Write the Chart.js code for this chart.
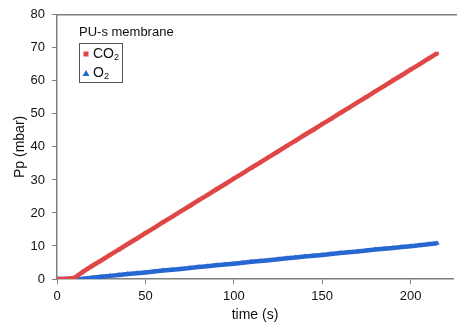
<!DOCTYPE html>
<html>
<head>
<meta charset="utf-8">
<script src="https://cdn.jsdelivr.net/npm/chart.js@4/dist/chart.umd.min.js"></script>
<style>
  html, body { margin: 0; padding: 0; background: #fff; }
  #wrap { width: 457px; height: 327px; position: relative; }
</style>
</head>
<body>
<div id="wrap"><canvas id="ppChart" width="457" height="327"></canvas></div>
<script>
/* Pp vs time, PU-s membrane */

const timeSec = [0, 5, 10, 15, 20, 25, 30, 35, 40, 45, 50, 55, 60, 65, 70, 75, 80, 85, 90, 95,
    100, 105, 110, 115, 120, 125, 130, 135, 140, 145, 150, 155, 160, 165, 170, 175, 180, 185,
    190, 195, 200, 205, 210, 215];
const co2Pp = [0, 0, 0.4, 2.3, 4.0, 5.6, 7.3, 8.9, 10.6, 12.2, 13.9, 15.5, 17.2, 18.8, 20.5,
    22.1, 23.8, 25.4, 27.1, 28.7, 30.4, 32.0, 33.7, 35.3, 37.0, 38.6, 40.3, 41.9, 43.6, 45.2,
    46.9, 48.5, 50.2, 51.8, 53.5, 55.1, 56.8, 58.4, 60.1, 61.7, 63.4, 65.0, 66.7, 68.3];
const o2Pp = [0, 0, 0, 0.1, 0.35, 0.65, 0.95, 1.2, 1.5, 1.75, 2.0, 2.3, 2.55, 2.8, 3.05, 3.35,
    3.6, 3.85, 4.15, 4.4, 4.65, 4.9, 5.2, 5.45, 5.7, 6.0, 6.25, 6.5, 6.8, 7.05, 7.3, 7.55, 7.85,
    8.1, 8.35, 8.65, 8.9, 9.15, 9.4, 9.7, 9.95, 10.2, 10.5, 10.8];
const seriesLabels = ['CO₂', 'O₂'];
const legendTitle = 'PU-s membrane';
const xTickValues = [0, 50, 100, 150, 200];

const FONT = 'Liberation Sans, Arial, sans-serif';
const AXIS_COLOR = '#7f7f7f';

function toPoints(ys) {
    return timeSec.map((t, i) => ({ x: t, y: ys[i] }));
}

// draws "CO₂" with a real lowered, smaller subscript digit
function drawChemLabel(ctx, text, x, y) {
    let cx = x;
    for (const ch of text) {
        const sub = '₀₁₂₃₄₅₆₇₈₉'.indexOf(ch);
        if (sub >= 0) {
            ctx.font = '9px ' + FONT;
            ctx.fillText(String(sub), cx, y + 3.5);
            cx += ctx.measureText(String(sub)).width;
        } else {
            ctx.font = '14px ' + FONT;
            ctx.fillText(ch, cx, y);
            cx += ctx.measureText(ch).width;
        }
    }
}

// frame line on top + boxed legend like the original figure
const frameAndLegend = {
    id: 'frameAndLegend',
    afterDraw(chart) {
        const { ctx, chartArea } = chart;
        ctx.save();
        ctx.strokeStyle = AXIS_COLOR;
        ctx.lineWidth = 1.5;
        ctx.beginPath();
        ctx.moveTo(chartArea.left, chartArea.top);
        ctx.lineTo(chart.width, chartArea.top);
        ctx.stroke();

        const lx = 79;
        const ly = 43;
        ctx.fillStyle = '#111';
        ctx.font = '13px ' + FONT;
        ctx.textBaseline = 'middle';
        ctx.fillText(legendTitle, lx, 32);

        ctx.strokeStyle = '#555';
        ctx.lineWidth = 1;
        ctx.strokeRect(lx + 0.5, ly + 0.5, 43, 39);

        chart.data.datasets.forEach((ds, i) => {
            const cy = ly + 11 + i * 19;
            ctx.fillStyle = ds.borderColor;
            if (ds.pointStyle === 'triangle') {
                ctx.beginPath();
                ctx.moveTo(lx + 7, cy - 3);
                ctx.lineTo(lx + 10.5, cy + 3);
                ctx.lineTo(lx + 3.5, cy + 3);
                ctx.closePath();
                ctx.fill();
            } else {
                ctx.fillRect(lx + 4.5, cy - 2.5, 5, 5);
            }
            ctx.fillStyle = '#111';
            drawChemLabel(ctx, ds.label, lx + 14, cy);
        });
        ctx.restore();
    }
};

new Chart(document.getElementById('ppChart').getContext('2d'), {
    type: 'line',
    data: {
        datasets: [
            {
                label: seriesLabels[0],
                data: toPoints(co2Pp),
                borderColor: '#e04646',
                backgroundColor: '#e04646',
                borderWidth: 4.5,
                pointStyle: 'rect',
                pointRadius: 2.5,
                pointBorderWidth: 0,
                tension: 0
            },
            {
                label: seriesLabels[1],
                data: toPoints(o2Pp),
                borderColor: '#2767d2',
                backgroundColor: '#2767d2',
                borderWidth: 4.5,
                pointStyle: 'triangle',
                pointRadius: 3,
                pointBorderWidth: 0,
                tension: 0
            }
        ]
    },
    options: {
        responsive: false,
        animation: false,
        layout: { padding: { top: 9, right: 0, left: 0, bottom: 0 } },
        plugins: {
            legend: { display: false },
            tooltip: { enabled: false }
        },
        scales: {
            x: {
                type: 'linear',
                min: 0,
                max: 224,
                afterBuildTicks: (scale) => {
                    scale.ticks = xTickValues.map((v) => ({ value: v }));
                },
                afterFit: (scale) => {
                    scale.height = 48;
                    scale.paddingRight = 0;
                },
                grid: {
                    display: true,
                    drawOnChartArea: false,
                    drawTicks: true,
                    tickLength: 5,
                    color: AXIS_COLOR
                },
                border: { color: AXIS_COLOR, width: 1.5 },
                ticks: {
                    color: '#111',
                    font: { family: FONT, size: 13 },
                    padding: 5,
                    maxRotation: 0
                },
                title: {
                    display: true,
                    text: 'time (s)',
                    color: '#111',
                    font: { family: FONT, size: 14 },
                    padding: { top: 3, bottom: 3 }
                }
            },
            y: {
                min: 0,
                max: 80,
                ticks: {
                    stepSize: 10,
                    color: '#111',
                    font: { family: FONT, size: 13 },
                    padding: 7
                },
                afterFit: (scale) => { scale.width = 57; },
                grid: {
                    display: true,
                    drawOnChartArea: false,
                    drawTicks: true,
                    tickLength: 5,
                    color: AXIS_COLOR
                },
                border: { color: AXIS_COLOR, width: 1.5 },
                title: {
                    display: true,
                    text: 'Pp (mbar)',
                    color: '#111',
                    font: { family: FONT, size: 14 },
                    padding: { top: 11.5, bottom: 0 }
                }
            }
        }
    },
    plugins: [frameAndLegend]
});
</script>
</body>
</html>
